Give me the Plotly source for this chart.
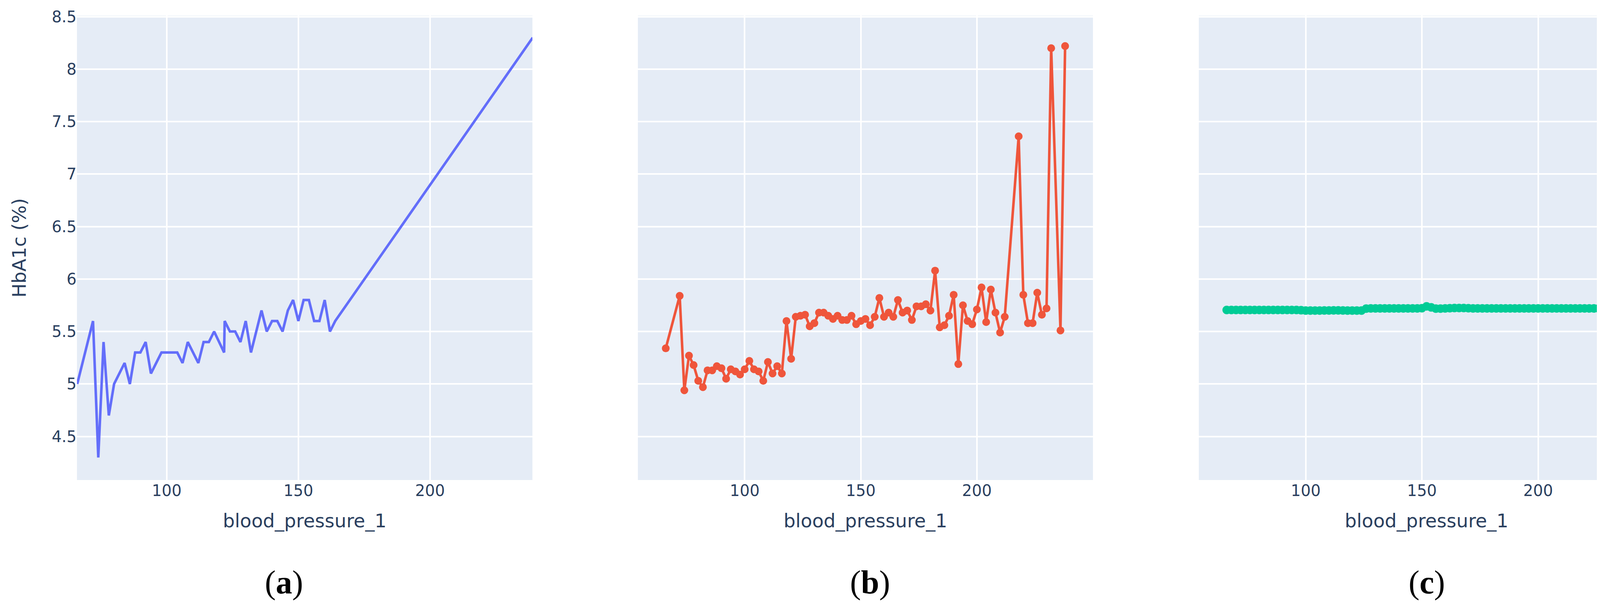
import plotly.graph_objects as go
from plotly.subplots import make_subplots

# ---------------- data ----------------
# (a) HbA1c vs blood_pressure_1, line only
a_bp = [66, 72, 74, 76, 78, 80, 84, 86, 88, 90, 92, 94, 98, 100, 102, 104, 106, 108,
        112, 114, 116, 118, 121.8, 122, 124, 126, 128, 130, 132, 136, 138, 140, 142,
        144, 146, 148, 150, 152, 154, 156, 158, 160, 162, 164, 239]
a_hba1c = [5.0, 5.6, 4.3, 5.4, 4.7, 5.0, 5.2, 5.0, 5.3, 5.3, 5.4, 5.1, 5.3, 5.3, 5.3, 5.3,
           5.2, 5.4, 5.2, 5.4, 5.4, 5.5, 5.3, 5.6, 5.5, 5.5, 5.4, 5.6, 5.3, 5.7, 5.5,
           5.6, 5.6, 5.5, 5.7, 5.8, 5.6, 5.8, 5.8, 5.6, 5.6, 5.8, 5.5, 5.6, 8.3]

# (b) lines + markers
b_bp = [66, 72, 74, 76, 78, 80, 82, 84, 86, 88, 90, 92, 94, 96, 98, 100, 102, 104, 106,
        108, 110, 112, 114, 116, 118, 120, 122, 124, 126, 128, 130, 132, 134, 136, 138,
        140, 142, 144, 146, 148, 150, 152, 154, 156, 158, 160, 162, 164, 166, 168, 170,
        172, 174, 176, 178, 180, 182, 184, 186, 188, 190, 192, 194, 196, 198, 200, 202,
        204, 206, 208, 210, 212, 218, 220, 222, 224, 226, 228, 230, 232, 236, 238]
b_hba1c = [5.34, 5.84, 4.94, 5.27, 5.18, 5.03, 4.97, 5.13, 5.13, 5.17, 5.15, 5.05, 5.14,
           5.12, 5.09, 5.14, 5.22, 5.14, 5.12, 5.03, 5.21, 5.10, 5.17, 5.10, 5.60, 5.24,
           5.64, 5.65, 5.66, 5.55, 5.58, 5.68, 5.68, 5.65, 5.62, 5.65, 5.61, 5.61, 5.65,
           5.57, 5.60, 5.62, 5.56, 5.64, 5.82, 5.64, 5.68, 5.64, 5.80, 5.68, 5.70, 5.61,
           5.74, 5.74, 5.76, 5.70, 6.08, 5.54, 5.56, 5.65, 5.85, 5.19, 5.75, 5.60, 5.57,
           5.71, 5.92, 5.59, 5.90, 5.68, 5.49, 5.64, 7.36, 5.85, 5.58, 5.58, 5.87, 5.66,
           5.72, 8.20, 5.51, 8.22]

# (c) lines + markers, nearly flat
c_bp = [66, 68, 70, 72, 74, 76, 78, 80, 82, 84, 86, 88, 90, 92, 94, 96, 98, 100, 102,
        104, 106, 108, 110, 112, 114, 116, 118, 120, 122, 124, 126, 128, 130, 132, 134,
        136, 138, 140, 142, 144, 146, 148, 150, 152, 154, 156, 158, 160, 162, 164, 166,
        168, 170, 172, 174, 176, 178, 180, 182, 184, 186, 188, 190, 192, 194, 196, 198,
        200, 202, 204, 206, 208, 210, 212, 214, 216, 218, 220, 222, 224, 226, 228, 230,
        232, 234, 236, 238]
c_hba1c = [5.705, 5.705, 5.705, 5.705, 5.705, 5.705, 5.705, 5.705, 5.705, 5.705, 5.705,
           5.705, 5.705, 5.705, 5.705, 5.705, 5.703, 5.700, 5.700, 5.700, 5.700, 5.701,
           5.701, 5.702, 5.702, 5.701, 5.700, 5.700, 5.700, 5.700, 5.718, 5.720, 5.720,
           5.720, 5.720, 5.720, 5.720, 5.720, 5.720, 5.720, 5.720, 5.720, 5.722, 5.740,
           5.730, 5.718, 5.718, 5.720, 5.722, 5.724, 5.724, 5.724, 5.722, 5.720, 5.720,
           5.720, 5.720, 5.720, 5.720, 5.720, 5.720, 5.720, 5.720, 5.720, 5.720, 5.720,
           5.720, 5.720, 5.720, 5.720, 5.720, 5.720, 5.720, 5.720, 5.720, 5.720, 5.720,
           5.720, 5.720, 5.720, 5.720, 5.720, 5.720, 5.720, 5.720, 5.720, 5.720]

x_tick_vals = [100, 150, 200]
y_tick_vals = [4.5, 5, 5.5, 6, 6.5, 7, 7.5, 8, 8.5]
y_tick_text = ["4.5", "5", "5.5", "6", "6.5", "7", "7.5", "8", "8.5"]
panel_labels = ["a", "b", "c"]
x_title = "blood_pressure_1"
y_title = "HbA1c (%)"

# ---------------- figure ----------------
# the page body has an 8px margin, so the figure is made 16px smaller and
# every position is shifted by 8px to land on the reference's pixels
OFF = 8
W, H = 4256 - 2 * OFF, 1558 - 2 * OFF
ML = 197 - OFF
MT = 35 - OFF
MR = W - (4235 - OFF)
MB = H - (1228 - OFF)
PW = W - ML - MR
PH = H - MT - MB

fig = make_subplots(rows=1, cols=3, shared_yaxes=True, horizontal_spacing=0.0667)

fig.add_trace(go.Scatter(x=a_bp, y=a_hba1c, mode="lines",
                         line=dict(color="#636efa", width=6.5)), row=1, col=1)
fig.add_trace(go.Scatter(x=b_bp, y=b_hba1c, mode="lines+markers",
                         line=dict(color="#EF553B", width=6.5),
                         marker=dict(color="#EF553B", size=20)), row=1, col=2)
fig.add_trace(go.Scatter(x=c_bp, y=c_hba1c, mode="lines+markers",
                         line=dict(color="#00cc96", width=6.5),
                         marker=dict(color="#00cc96", size=22)), row=1, col=3)

font_color = "#2a3f5f"
tick_font = dict(family="DejaVu Sans", size=40, color=font_color)
title_font = dict(family="DejaVu Sans", size=48, color=font_color)

doms = [(0, 1166 / PW), ((1633 - 197) / PW, (2798 - 197) / PW), ((3069 - 197) / PW, 1.0)]
xranges = [[65.9, 238.9], [54, 250], [54, 250]]
for i in range(3):
    fig.update_xaxes(domain=list(doms[i]), range=xranges[i], tickvals=x_tick_vals,
                     tickfont=tick_font, showgrid=True, gridcolor="white", gridwidth=3.5,
                     zeroline=False, ticks="",
                     title=dict(text=x_title, font=title_font, standoff=38),
                     row=1, col=i + 1)
    fig.update_yaxes(range=[4.085, 8.51], tickvals=y_tick_vals, ticktext=y_tick_text,
                     tickfont=tick_font, showgrid=True, gridcolor="white", gridwidth=3.5,
                     zeroline=False, ticks="", row=1, col=i + 1)
fig.update_yaxes(title=dict(text=y_title, font=title_font, standoff=50), row=1, col=1)
fig.update_yaxes(showticklabels=False, row=1, col=2)
fig.update_yaxes(showticklabels=False, row=1, col=3)

label_x_px = [727, 2227, 3652]
label_y_px = 1491
for lab, px in zip(panel_labels, label_x_px):
    fig.add_annotation(text="(<b>" + lab + "</b>)", xref="paper", yref="paper",
                       x=(px - 197) / PW, y=-(label_y_px - 1228) / PH,
                       xanchor="center", yanchor="middle", showarrow=False,
                       font=dict(family="Liberation Serif", size=84, color="black"))

fig.update_layout(width=W, height=H, margin=dict(l=ML, r=MR, t=MT, b=MB),
                  paper_bgcolor="white", plot_bgcolor="#E5ECF6", showlegend=False,
                  font=dict(family="DejaVu Sans", color=font_color))

fig.write_html("out.html")
